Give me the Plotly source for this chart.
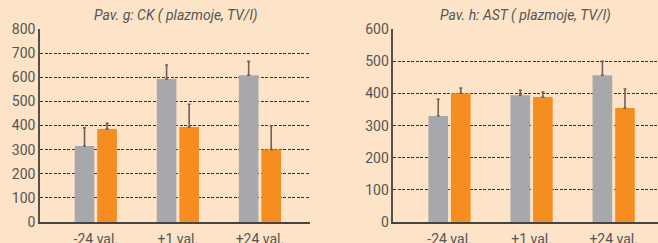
import plotly.graph_objects as go

categories = ["-24 val.", "+1 val.", "+24 val."]
ck_gray = [315, 593, 608]
ck_gray_err = [75, 58, 58]
ck_orange = [386, 394, 301]
ck_orange_err = [23, 94, 98]
ast_gray = [330, 395, 457]
ast_gray_err = [52, 15, 43]
ast_orange = [401, 389, 355]
ast_orange_err = [16, 16, 59]
ck_ticks = [0, 100, 200, 300, 400, 500, 600, 700, 800]
ast_ticks = [0, 100, 200, 300, 400, 500, 600]
titles = ["Pav. g: CK ( plazmoje, TV/l)", "Pav. h: AST ( plazmoje, TV/l)"]

GRAY = "#A7A8AB"
ORANGE = "#F68D20"
ERR = "#6F6058"
BG = "#FDE4C8"
TXT = "#555555"

fig = go.Figure()

def add_pair(g, ge, o, oe, xa, ya):
    fig.add_trace(go.Bar(x=categories, y=g, marker_color=GRAY, marker_line_width=0,
                         error_y=dict(type="data", array=ge, arrayminus=[0]*3, symmetric=False,
                                      color=ERR, thickness=1.6, width=1.5),
                         xaxis=xa, yaxis=ya, showlegend=False))
    fig.add_trace(go.Bar(x=categories, y=o, marker_color=ORANGE, marker_line_width=0,
                         error_y=dict(type="data", array=oe, arrayminus=[0]*3, symmetric=False,
                                      color=ERR, thickness=1.6, width=1.5),
                         xaxis=xa, yaxis=ya, showlegend=False))

add_pair(ck_gray, ck_gray_err, ck_orange, ck_orange_err, "x", "y")
add_pair(ast_gray, ast_gray_err, ast_orange, ast_orange_err, "x2", "y2")

W, H = 658, 243
ybot = (H - 222) / H
ytop1 = (H - 29) / H
ytop2 = (H - 29.3) / H

xcommon = dict(type="category", showgrid=False, showline=True, linecolor="#444444", linewidth=1.5,
               ticks="outside", ticklen=3, tickcolor="rgba(0,0,0,0)",
               tickfont=dict(family="Roboto", size=14, color=TXT), automargin=False, fixedrange=True)
ycommon = dict(showgrid=True, gridcolor="#333333", griddash="3px,1.5px", gridwidth=1,
               showline=True, linecolor="#5a4e48", linewidth=1.5, zeroline=False,
               ticks="", tickfont=dict(family="Roboto", size=14, color=TXT), automargin=False)

fig.update_layout(
    width=W, height=H,
    margin=dict(l=0, r=0, t=0, b=0),
    paper_bgcolor=BG, plot_bgcolor=BG,
    barmode="group", bargap=0.45, bargroupgap=0.13,
    xaxis=dict(domain=[40 / W, 310 / W], range=[-0.68, 2.61], **xcommon),
    yaxis=dict(domain=[ybot, ytop1], range=[0, 800], tickvals=ck_ticks, **ycommon),
    xaxis2=dict(domain=[393.3 / W, 1.0], range=[-0.685, 2.54], anchor="y2", **xcommon),
    yaxis2=dict(domain=[ybot, ytop2], range=[0, 600], tickvals=ast_ticks, anchor="x2", **ycommon),
    annotations=[
        dict(text="<i>" + titles[0] + "</i>", x=175 / W, y=(H - 15) / H, xref="paper", yref="paper",
             showarrow=False, font=dict(family="Roboto", size=14, color=TXT),
             xanchor="center", yanchor="middle"),
        dict(text="<i>" + titles[1] + "</i>", x=525 / W, y=(H - 15) / H, xref="paper", yref="paper",
             showarrow=False, font=dict(family="Roboto", size=14, color=TXT),
             xanchor="center", yanchor="middle"),
    ],
)

fig.write_html("out.html", config={"displayModeBar": False},
               post_script="document.body.style.margin='0';document.body.style.background='%s';" % BG)
